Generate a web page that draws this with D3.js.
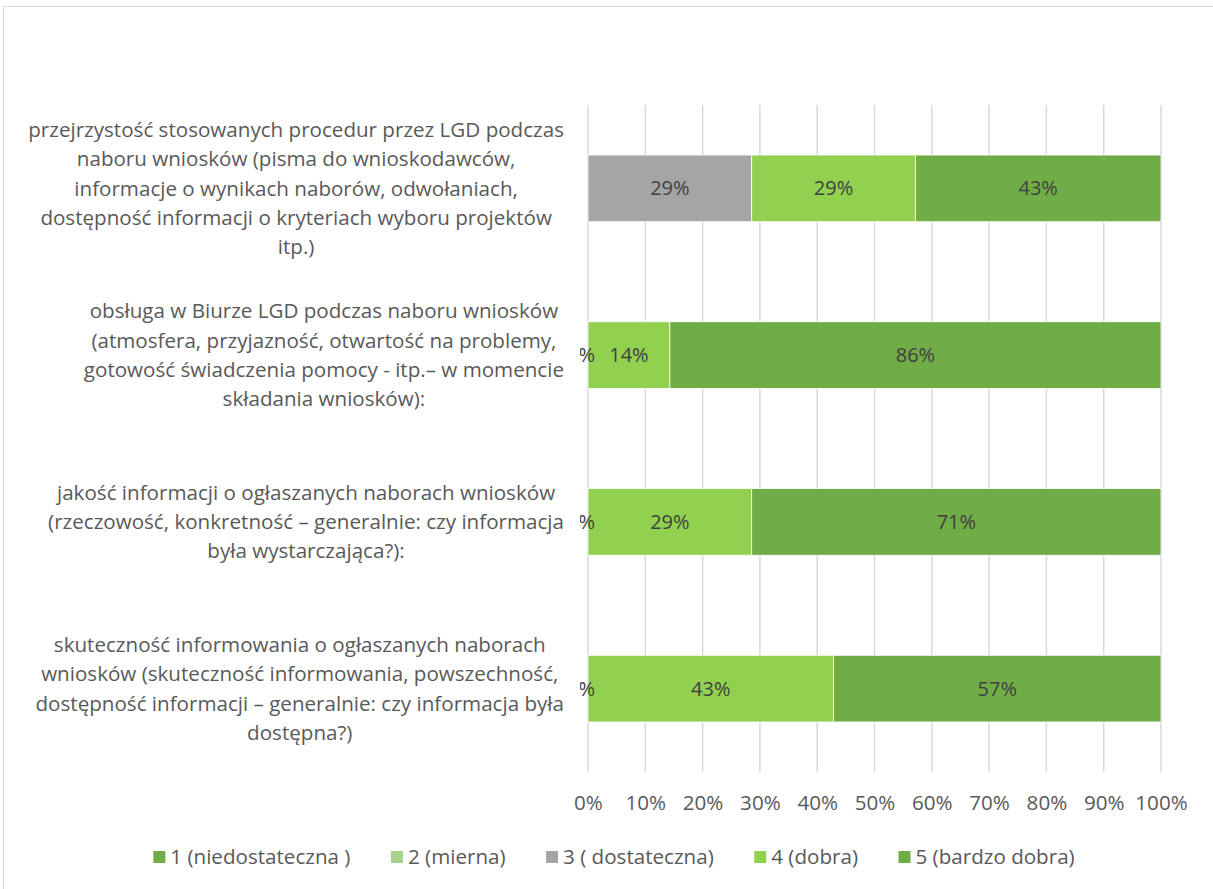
<!DOCTYPE html>
<html><head><meta charset="utf-8">
<script src="https://cdn.jsdelivr.net/npm/d3@7"></script>
<style>body{margin:0;background:#fff}svg{display:block}text{font-family:"Open Sans",sans-serif}</style>
</head><body>
<svg id="c" width="1213" height="889"></svg>
<script>
const categories = [
  ["przejrzystość stosowanych procedur przez LGD podczas","naboru wniosków (pisma do wnioskodawców,","informacje o wynikach naborów, odwołaniach,","dostępność informacji o kryteriach wyboru projektów","itp.)"],
  ["obsługa w Biurze LGD podczas naboru wniosków","(atmosfera, przyjazność, otwartość na problemy,","gotowość świadczenia pomocy - itp.– w momencie","składania wniosków):"],
  ["jakość informacji o ogłaszanych naborach wniosków","(rzeczowość, konkretność – generalnie: czy informacja","była wystarczająca?):"],
  ["skuteczność informowania o ogłaszanych naborach","wniosków (skuteczność informowania, powszechność,","dostępność informacji – generalnie: czy informacja była","dostępna?)"]
];
const seriesNames = ["1 (niedostateczna )","2 (mierna)","3 ( dostateczna)","4 (dobra)","5 (bardzo dobra)"];
const seriesColors = ["#70AD47","#A9D18E","#A5A5A5","#92D050","#70AD47"];
// values (fractions) per series, per category in order
const s1 = [null, null, null, null];
const s2 = [null, null, null, null];
const s3 = [0.2857, 0, 0, 0];
const s4 = [0.2857, 0.1429, 0.2857, 0.4286];
const s5 = [0.4286, 0.8571, 0.7143, 0.5714];
const seriesValues = [s1, s2, s3, s4, s5];
const tickValues = [0,0.1,0.2,0.3,0.4,0.5,0.6,0.7,0.8,0.9,1];

const FS = 20.6;
const svg = d3.select("#c");
svg.append("rect").attr("x",3.5).attr("y",6.5).attr("width",1240).attr("height",900)
  .attr("fill","none").attr("stroke","#d9d9d9");

const x = d3.scaleLinear().domain([0,1]).range([588,1161]);
const y = d3.scaleBand().domain(d3.range(categories.length)).range([105,772]).paddingInner(0.6).paddingOuter(0.3);

// gridlines
svg.append("g").selectAll("line").data(tickValues).join("line")
  .attr("x1",d=>x(d)).attr("x2",d=>x(d)).attr("y1",105).attr("y2",772)
  .attr("stroke","#d9d9d9").attr("stroke-width",1.5);

// stack
const stacked = categories.map((c,i)=>{
  let acc=0; return seriesValues.map((s,k)=>{const v=s[i]; const r={cat:i,k,v,x0:acc,x1:acc+(v||0)}; acc+=(v||0); return r;});
});
const segs = stacked.flat();
svg.append("g").selectAll("rect").data(segs.filter(d=>d.v)).join("rect")
  .attr("x",d=>x(d.x0)).attr("width",d=>x(d.x1)-x(d.x0))
  .attr("y",d=>y(d.cat)).attr("height",y.bandwidth())
  .attr("fill",d=>seriesColors[d.k]).attr("stroke","#fff").attr("stroke-width",0.8);

// data labels (zero labels are clipped by the plot area edge)
svg.append("clipPath").attr("id","pc").append("rect").attr("x",580).attr("y",100).attr("width",620).attr("height",680);
svg.append("g").attr("clip-path","url(#pc)").selectAll("text").data(segs.filter(d=>d.v!==null)).join("text")
  .attr("x",d=>d.v===0 ? x(d.x0)+7 : x((d.x0+d.x1)/2))
  .attr("text-anchor",d=>d.v===0 ? "end" : "middle")
  .attr("y",d=>y(d.cat)+y.bandwidth()/2)
  .attr("dy","0.35em").attr("font-size",FS-0.6).attr("fill","#404040")
  .text(d=>d3.format(".0%")(d.v));

// axis
const ax = svg.append("g").attr("transform","translate(0,772)")
  .call(d3.axisBottom(x).tickValues(tickValues).tickFormat(d3.format(".0%")).tickSize(0).tickPadding(23));
ax.select(".domain").remove();
ax.selectAll("text").attr("font-size",FS).attr("fill","#595959").attr("font-family","'Open Sans',sans-serif");

// category labels
const lh = 29.4;
categories.forEach((lines,i)=>{
  const g = svg.append("g");
  const cy = y(i)+y.bandwidth()/2;
  const ts = g.selectAll("text").data(lines).join("text")
    .attr("y",(d,j)=>cy+(j-(lines.length-1)/2)*lh).attr("dy","0.35em")
    .attr("font-size",FS).attr("fill","#595959").attr("text-anchor","middle").text(d=>d);
  const maxW = d3.max(ts.nodes(),n=>n.getComputedTextLength());
  ts.attr("x",564-maxW/2);
});

// legend
const lg = svg.append("g");
const items = lg.selectAll("g").data(seriesNames).join("g");
items.append("rect").attr("width",12).attr("height",12).attr("y",-6).attr("x",2).attr("fill",(d,i)=>seriesColors[i]);
items.append("text").attr("x",19).attr("dy","0.35em").attr("font-size",FS).attr("fill","#595959").text(d=>d);
const gap=40.5; const widths=[];
items.each(function(){widths.push(this.getBBox().width);});
const total = d3.sum(widths)+gap*(widths.length-1);
let lx = 612-total/2;
items.attr("transform",(d,i)=>{const t=`translate(${lx},857)`; lx+=widths[i]+gap; return t;});
</script>
</body></html>
